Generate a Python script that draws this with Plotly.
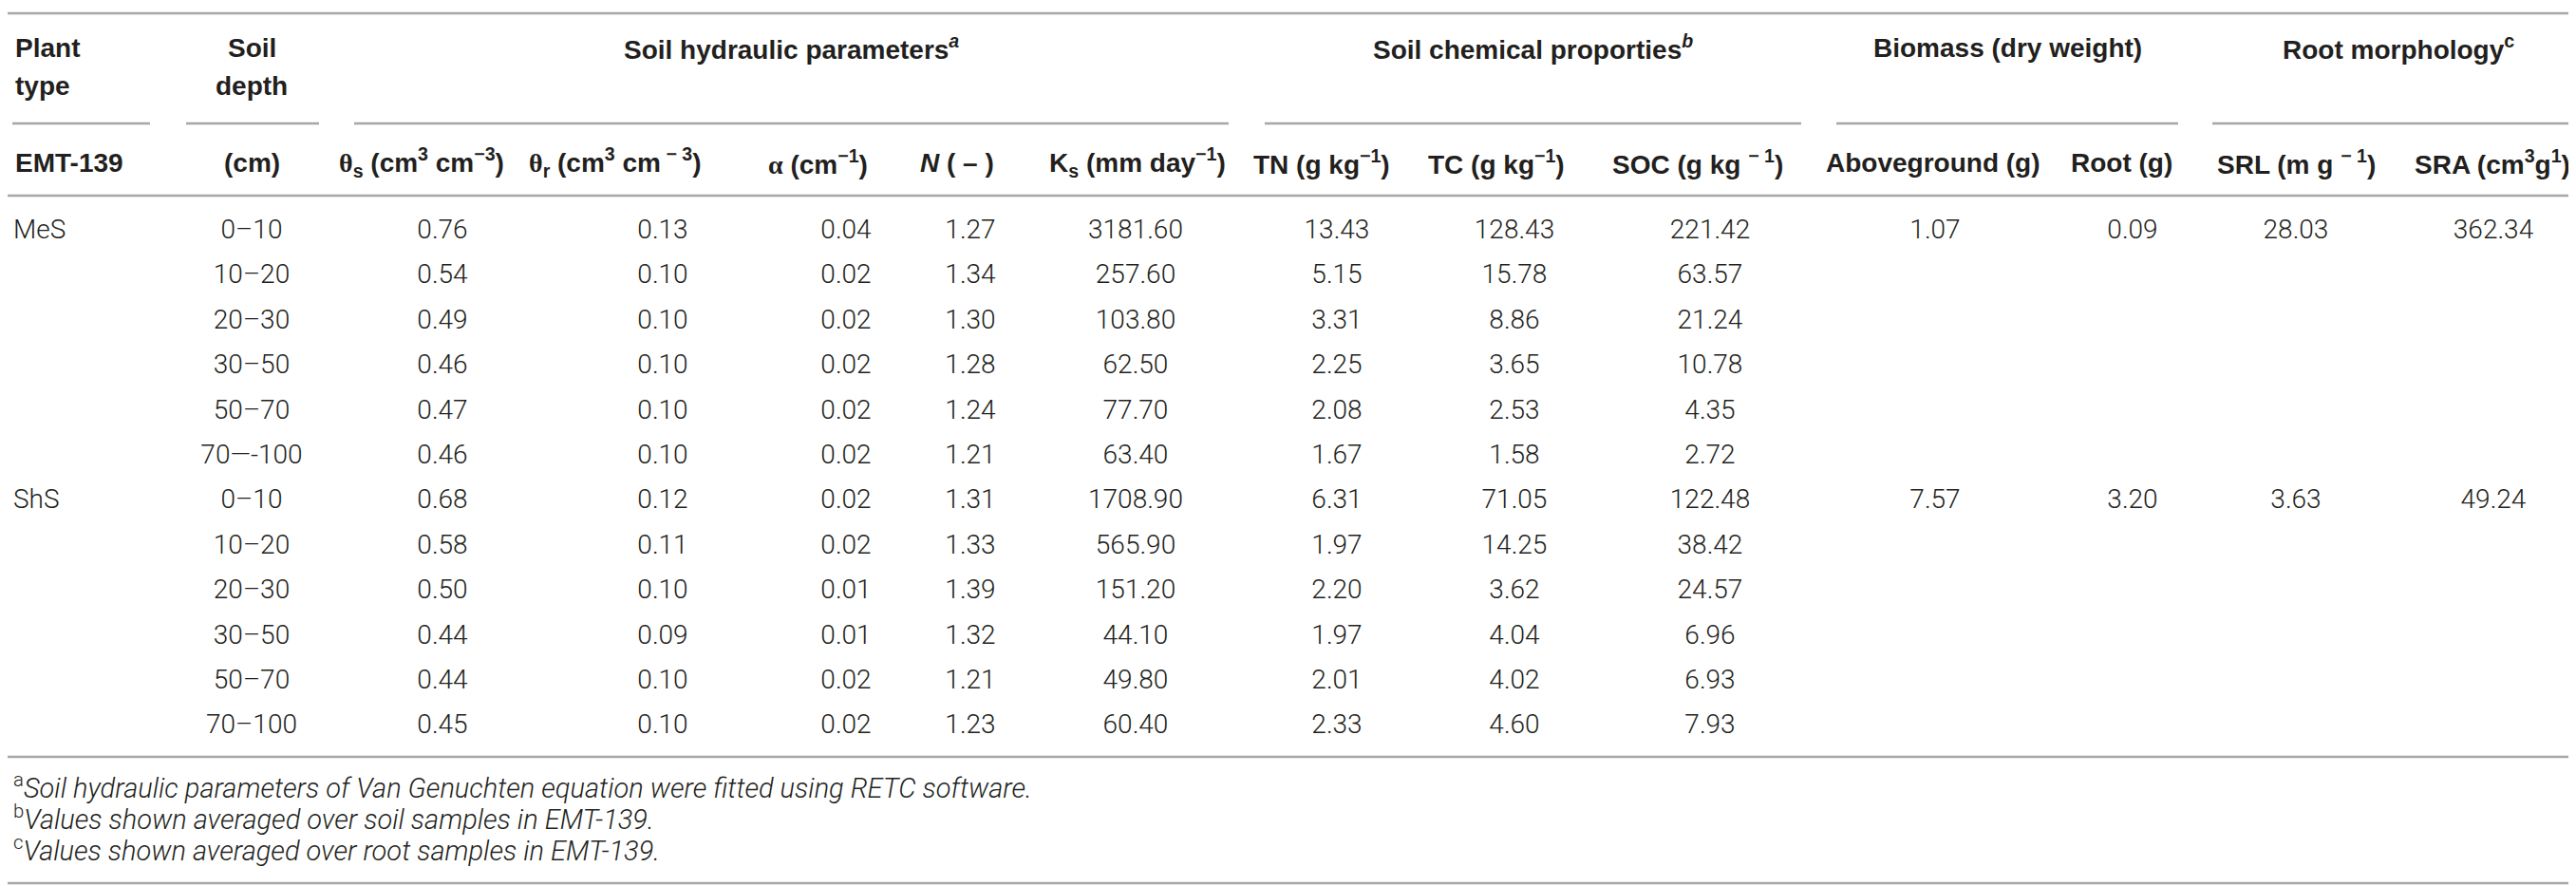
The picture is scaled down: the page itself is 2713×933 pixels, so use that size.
import plotly.graph_objects as go

# ---------------- data ----------------
plant_types = ["MeS", "ShS"]
depths = ["0–10", "10–20", "20–30", "30–50", "50–70", "70—-100",
          "0–10", "10–20", "20–30", "30–50", "50–70", "70–100"]
theta_s = [0.76, 0.54, 0.49, 0.46, 0.47, 0.46, 0.68, 0.58, 0.50, 0.44, 0.44, 0.45]
theta_r = [0.13, 0.10, 0.10, 0.10, 0.10, 0.10, 0.12, 0.11, 0.10, 0.09, 0.10, 0.10]
alpha = [0.04, 0.02, 0.02, 0.02, 0.02, 0.02, 0.02, 0.02, 0.01, 0.01, 0.02, 0.02]
n_param = [1.27, 1.34, 1.30, 1.28, 1.24, 1.21, 1.31, 1.33, 1.39, 1.32, 1.21, 1.23]
ks = [3181.60, 257.60, 103.80, 62.50, 77.70, 63.40, 1708.90, 565.90, 151.20, 44.10, 49.80, 60.40]
tn = [13.43, 5.15, 3.31, 2.25, 2.08, 1.67, 6.31, 1.97, 2.20, 1.97, 2.01, 2.33]
tc = [128.43, 15.78, 8.86, 3.65, 2.53, 1.58, 71.05, 14.25, 3.62, 4.04, 4.02, 4.60]
soc = [221.42, 63.57, 21.24, 10.78, 4.35, 2.72, 122.48, 38.42, 24.57, 6.96, 6.93, 7.93]
aboveground = [1.07, 7.57]
root_mass = [0.09, 3.20]
srl = [28.03, 3.63]
sra = [362.34, 49.24]

SERIF = '<span style="font-family:Liberation Serif, DejaVu Serif, serif">{}</span>'
group_headers = ["Soil hydraulic parameters<sup><i>a</i></sup>",
                 "Soil chemical proporties<sup><i>b</i></sup>",
                 "Biomass (dry weight)",
                 "Root morphology<sup>c</sup>"]
col_headers = [SERIF.format("θ") + "<sub>s</sub> (cm<sup>3</sup> cm<sup>−3</sup>)",
               SERIF.format("θ") + "<sub>r</sub> (cm<sup>3</sup> cm<sup> − 3</sup>)",
               SERIF.format("α") + " (cm<sup>−1</sup>)",
               "<i>N</i> ( – )",
               "K<sub>s</sub> (mm day<sup>−1</sup>)",
               "TN (g kg<sup>−1</sup>)",
               "TC (g kg<sup>−1</sup>)",
               "SOC (g kg <sup>− 1</sup>)",
               "Aboveground (g)",
               "Root (g)",
               "SRL (m g <sup>− 1</sup>)",
               "SRA (cm<sup>3</sup>g<sup>1</sup>)"]
footnotes = ["<sup>a</sup><i>Soil hydraulic parameters of Van Genuchten equation were fitted using RETC software.</i>",
             "<sup>b</sup><i>Values shown averaged over soil samples in EMT-139.</i>",
             "<sup>c</sup><i>Values shown averaged over root samples in EMT-139.</i>"]

# ---------------- layout geometry (pixels) ----------------
W, H = 2713, 933
row0, row_step = 236, 47.4
row_y = [row0 + i * row_step for i in range(12)]
group_row_y = [row_y[0], row_y[6]]

hdr_x = [436, 640, 853, 1000, 1190, 1384, 1568, 1780, 2028, 2226, 2410, 2617]
data_x = [458, 690, 883, 1014, 1188, 1400, 1587, 1793, 2030, 2238, 2410, 2618]
group_spans = [(365, 1286), (1324, 1889), (1926, 2286), (2322, 2713)]

DATA_FONT = dict(family="Roboto, Lato, sans-serif", size=28, color="#231f20", weight=300)
HDR_FONT = dict(family="Liberation Sans, Arial, sans-serif", size=28, color="#231f20", weight="bold")
FOOT_FONT = dict(family="Roboto, Lato, sans-serif", size=29, color="#231f20", weight=300)
RULE = dict(color="#a6a6a6", width=2.5)

fig = go.Figure()

def fmt(v):
    return f"{v:.2f}"

# plant type column (left-aligned)
fig.add_trace(go.Scatter(x=[6, 6], y=group_row_y, text=plant_types, mode="text",
                         textposition="middle right", textfont=DATA_FONT,
                         hoverinfo="skip", showlegend=False))
# depth column
fig.add_trace(go.Scatter(x=[257] * len(depths), y=row_y, text=depths, mode="text",
                         textposition="middle center", textfont=DATA_FONT,
                         hoverinfo="skip", showlegend=False))

per_row = [theta_s, theta_r, alpha, n_param, ks, tn, tc, soc]
for xi, series in zip(data_x[:8], per_row):
    fig.add_trace(go.Scatter(x=[xi] * len(series), y=row_y, text=[fmt(v) for v in series],
                             mode="text", textposition="middle center", textfont=DATA_FONT,
                             hoverinfo="skip", showlegend=False))
per_group = [aboveground, root_mass, srl, sra]
for xi, series in zip(data_x[8:], per_group):
    fig.add_trace(go.Scatter(x=[xi] * len(series), y=group_row_y, text=[fmt(v) for v in series],
                             mode="text", textposition="middle center", textfont=DATA_FONT,
                             hoverinfo="skip", showlegend=False))

ann = []
# header row 1
ann.append(dict(x=6, y=42, text="Plant", xanchor="left", font=HDR_FONT))
ann.append(dict(x=6, y=82, text="type", xanchor="left", font=HDR_FONT))
ann.append(dict(x=257, y=42, text="Soil", xanchor="center", font=HDR_FONT))
ann.append(dict(x=257, y=82, text="depth", xanchor="center", font=HDR_FONT))
for (a, b), t in zip(group_spans, group_headers):
    ann.append(dict(x=(a + b) / 2, y=42, text=t, xanchor="center", font=HDR_FONT))
# header row 2
ann.append(dict(x=6, y=163, text="EMT-139", xanchor="left", font=HDR_FONT))
ann.append(dict(x=257, y=163, text="(cm)", xanchor="center", font=HDR_FONT))
for xi, t in zip(hdr_x, col_headers):
    ann.append(dict(x=xi, y=163, text=t, xanchor="center", font=HDR_FONT))
# footnotes
for yy, t in zip([820, 853, 886], footnotes):
    ann.append(dict(x=4, y=yy, text=t, xanchor="left", font=FOOT_FONT))
for a_ in ann:
    a_.update(xref="x", yref="y", showarrow=False, yanchor="middle")

shapes = []
for yy in [6, 198, 789, 922]:
    shapes.append(dict(type="line", x0=0, x1=W, y0=yy, y1=yy, line=RULE))
for a, b in [(5, 150), (188, 328)] + group_spans:
    shapes.append(dict(type="line", x0=a, x1=b, y0=122, y1=122, line=RULE))
for s in shapes:
    s.update(xref="x", yref="y", layer="below")

fig.update_layout(
    width=W, height=H, margin=dict(l=0, r=0, t=0, b=0),
    paper_bgcolor="white", plot_bgcolor="white",
    xaxis=dict(range=[0, W], visible=False, fixedrange=True),
    yaxis=dict(range=[H, 0], visible=False, fixedrange=True),
    annotations=ann, shapes=shapes, showlegend=False,
)
fig.write_html("out.html", config={"displayModeBar": False})
